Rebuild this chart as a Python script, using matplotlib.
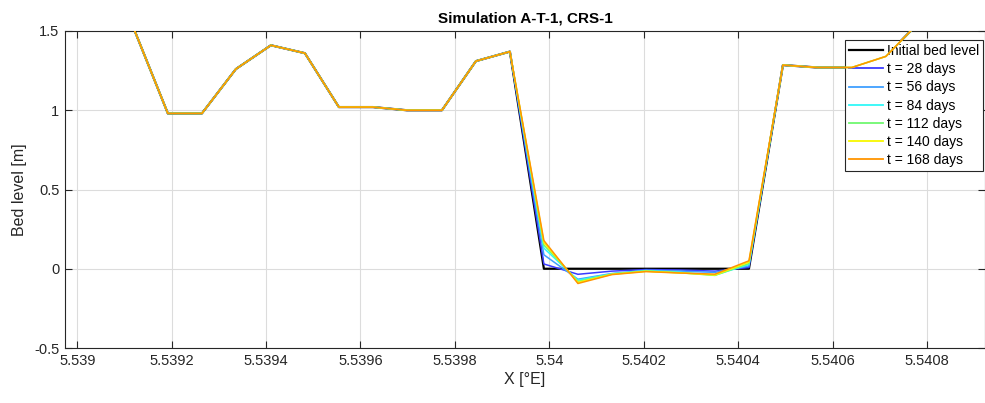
import matplotlib
matplotlib.use("Agg")
import matplotlib.pyplot as plt
from matplotlib.ticker import FuncFormatter

plt.rcParams['font.family'] = ['Liberation Sans', 'DejaVu Sans']
plt.rcParams['axes.unicode_minus'] = False

# Longitude of profile points [°E]
x = [5.5390458, 5.5391191, 5.5391919, 5.5392640, 5.5393360, 5.5394102,
     5.5394822, 5.5395542, 5.5396263, 5.5396983, 5.5397725, 5.5398445,
     5.5399165, 5.5399885, 5.5400606, 5.5401326, 5.5402047, 5.5402767,
     5.5403509, 5.5404229, 5.5404949, 5.5405670, 5.5406411, 5.5407131,
     5.5407851, 5.5408572]

left_part = [1.90, 1.52, 0.98, 0.98, 1.26, 1.41, 1.36, 1.02, 1.02, 1.00, 1.00, 1.31, 1.37]
right_part = [1.285, 1.27, 1.27, 1.34, 1.56, 1.80]

trench_initial = [0.0, 0.0, 0.0, 0.0, 0.0, 0.0, 0.0]
trench_t28 = [0.030, -0.035, -0.015, -0.005, -0.008, -0.015, 0.008]
trench_t56 = [0.088, -0.066, -0.030, -0.010, -0.015, -0.023, 0.018]
trench_t84 = [0.130, -0.072, -0.032, -0.012, -0.022, -0.040, 0.027]
trench_t112 = [0.150, -0.080, -0.033, -0.014, -0.025, -0.042, 0.033]
trench_t140 = [0.165, -0.086, -0.035, -0.016, -0.026, -0.040, 0.042]
trench_t168 = [0.178, -0.093, -0.037, -0.018, -0.027, -0.034, 0.050]

labels = ['Initial bed level', 't = 28 days', 't = 56 days', 't = 84 days',
          't = 112 days', 't = 140 days', 't = 168 days']
colors = ['#000000', '#3a3aff', '#3f9fff', '#30f8f8', '#70f870', '#f8f800', '#ff9400']
trenches = [trench_initial, trench_t28, trench_t56, trench_t84,
            trench_t112, trench_t140, trench_t168]

xticks = [5.539, 5.5392, 5.5394, 5.5396, 5.5398, 5.54, 5.5402, 5.5404, 5.5406, 5.5408]
yticks = [-0.5, 0, 0.5, 1, 1.5]

fig = plt.figure(figsize=(9.85, 4.03), dpi=100)
ax = fig.add_axes([65/985, 1-348/403, 1-65/985, (348-31)/403])

for i, (tr, c, lab) in enumerate(zip(trenches, colors, labels)):
    y = left_part + tr + right_part
    ax.plot(x, y, color=c, lw=1.6 if i == 0 else 1.1, label=lab, zorder=2+i)

ax.set_xlim(5.538974, 5.540923)
ax.set_ylim(-0.5, 1.5)
ax.set_xticks(xticks)
ax.set_yticks(yticks)
ax.xaxis.set_major_formatter(FuncFormatter(lambda v, p: f'{v:g}'))
ax.yaxis.set_major_formatter(FuncFormatter(lambda v, p: f'{v:g}'))
ax.grid(True, color='#dcdcdc', lw=0.8)
ax.set_axisbelow(True)
ax.tick_params(direction='in', length=5, width=0.8, color='#262626',
               labelsize=10.5, labelcolor='#262626', top=True, right=True, pad=4)
for s in ax.spines.values():
    s.set_color('#262626')
    s.set_linewidth(0.8)

ax.set_title('Simulation A-T-1, CRS-1', fontsize=11, fontweight='bold', pad=6)
ax.set_xlabel('X [°E]', fontsize=11.5, color='#262626', labelpad=3)
ax.set_ylabel('Bed level [m]', fontsize=11.5, color='#262626', labelpad=5)

leg = ax.legend(loc='upper right', bbox_to_anchor=(0.998, 0.972), borderaxespad=0,
                fontsize=10, frameon=True, fancybox=False, framealpha=1,
                edgecolor='#262626', handlelength=2.4, handletextpad=0.3,
                labelspacing=0.3, borderpad=0.3)
leg.get_frame().set_linewidth(0.8)
for line in leg.get_lines():
    line.set_linewidth(1.6 if line.get_label() == labels[0] else 1.3)

fig.savefig('out.png', dpi=100)
